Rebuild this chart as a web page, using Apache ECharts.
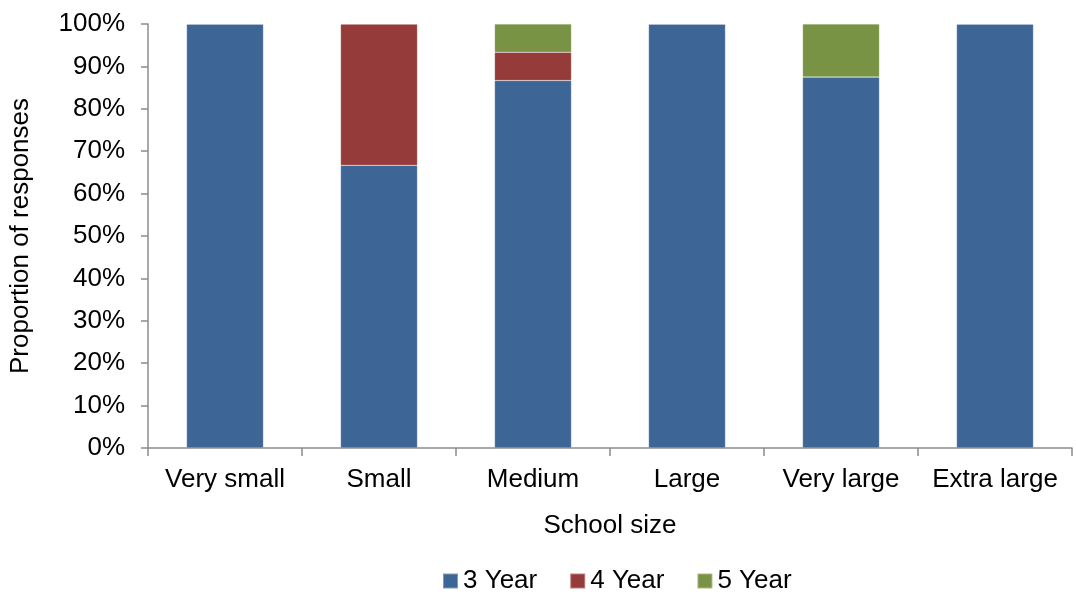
<!DOCTYPE html>
<html><head><meta charset="utf-8">
<script src="https://cdn.jsdelivr.net/npm/echarts@6/dist/echarts.min.js"></script>
<style>html,body{margin:0;padding:0;background:#fff}#c{width:1076px;height:596px}</style>
</head><body><div id="c"></div>
<script>
const categories = ['Very small','Small','Medium','Large','Very large','Extra large'];
const year3 = [100, 66.67, 86.67, 100, 87.5, 100];
const year4 = [0, 33.33, 6.67, 0, 0, 0];
const year5 = [0, 0, 6.67, 0, 12.5, 0];
const seriesNames = ['3 Year','4 Year','5 Year'];
const colors = ['#3D6596','#953B3A','#789343'];
const font = 'Liberation Sans, Arial, sans-serif';
const FS = 26;
const chart = echarts.init(document.getElementById('c'));
const mk = (name, data, i) => ({
  name, type: 'bar', stack: 'total', data, barWidth: '50%',
  itemStyle: {color: colors[i], borderColor: 'rgba(255,255,255,0.35)', borderWidth: 0.6},
  emphasis: {disabled: true}
});
chart.setOption({
  animation: false,
  textStyle: {fontFamily: font},
  grid: {left: 148, right: 4, top: 24, bottom: 148, containLabel: false, outerBoundsMode: 'none'},
  legend: {
    bottom: -3, left: 437, itemWidth: 15, itemHeight: 15, itemGap: 32,
    icon: 'rect',
    textStyle: {fontSize: FS, color: '#000', fontFamily: font},
    data: seriesNames
  },
  xAxis: {
    type: 'category', data: categories,
    name: 'School size', nameLocation: 'middle', nameGap: 65,
    nameTextStyle: {fontSize: FS, color: '#000', fontFamily: font},
    axisLine: {lineStyle: {color: '#8c8c8c', width: 1.5}},
    axisTick: {show: true, alignWithLabel: false, length: 8, lineStyle: {color: '#8c8c8c', width: 1.5}},
    axisLabel: {fontSize: FS, color: '#000', margin: 19, fontFamily: font, interval: 0, hideOverlap: false}
  },
  yAxis: {
    type: 'value', min: 0, max: 100, interval: 10,
    name: 'Proportion of responses', nameLocation: 'middle', nameGap: 114, nameRotate: 90,
    nameTextStyle: {fontSize: FS, color: '#000', fontFamily: font},
    axisLine: {show: true, lineStyle: {color: '#8c8c8c', width: 1.5}},
    axisTick: {show: true, length: 7, lineStyle: {color: '#8c8c8c', width: 1.5}},
    splitLine: {show: false},
    axisLabel: {fontSize: FS, color: '#000', margin: 23, formatter: '{value}%', fontFamily: font}
  },
  series: [mk(seriesNames[0], year3, 0), mk(seriesNames[1], year4, 1), mk(seriesNames[2], year5, 2)]
});
</script></body></html>
